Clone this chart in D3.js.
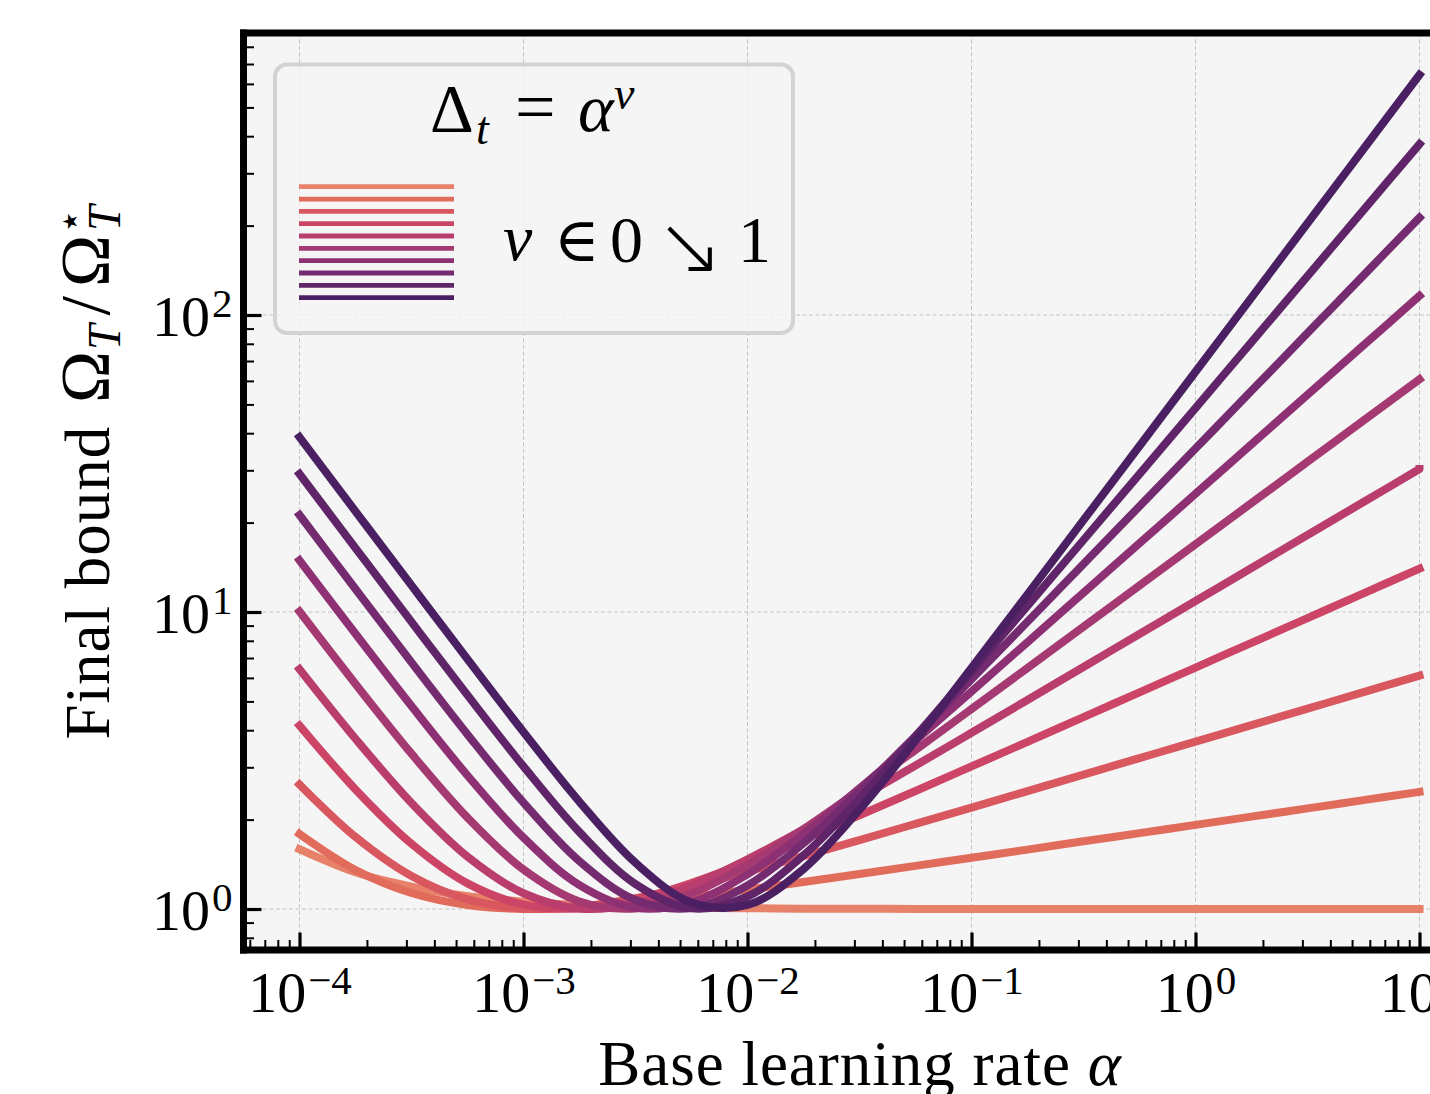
<!DOCTYPE html>
<html>
<head>
<meta charset="utf-8">
<script src="https://cdn.jsdelivr.net/npm/d3@7"></script>
<style>
body { margin: 0; background: #fff; }
svg { display: block; }
text { font-family: "Liberation Serif", "DejaVu Serif", serif; fill: #000; }
</style>
</head>
<body>
<svg id="chart"></svg>
<script>
const width = 1430;
const height = 1094;

// base learning rate samples (quarter decades)
const alpha = [1e-4, 1.778e-4, 3.162e-4, 5.623e-4, 1e-3, 1.778e-3, 3.162e-3, 5.623e-3,
  1e-2, 1.778e-2, 3.162e-2, 5.623e-2, 1e-1, 0.1778, 0.3162, 0.5623, 1, 1.778, 3.162, 5.623, 10];

// final bound ratio, one array per nu (0 -> 1)
const nu0 = [1.59, 1.33, 1.19, 1.105, 1.059, 1.033, 1.019, 1.010, 1.006, 1.003, 1.002, 1.001, 1.001, 1, 1, 1, 1, 1, 1, 1, 1];
const nu1 = [1.79, 1.354, 1.132, 1.032, 1.001, 1.012, 1.048, 1.099, 1.162, 1.233, 1.312, 1.397, 1.488, 1.585, 1.690, 1.801, 1.92, 2.047, 2.182, 2.326, 2.48];
const nu2 = [2.625, 1.748, 1.291, 1.077, 1.004, 1.017, 1.087, 1.196, 1.337, 1.507, 1.706, 1.935, 2.196, 2.495, 2.834, 3.221, 3.66, 4.16, 4.727, 5.372, 6.105];
const nu3 = [4.148, 2.528, 1.659, 1.220, 1.035, 1.004, 1.076, 1.224, 1.439, 1.718, 2.068, 2.497, 3.021, 3.655, 4.429, 5.365, 6.5, 7.875, 9.541, 11.56, 14.0];
const nu4 = [6.422, 3.744, 2.276, 1.501, 1.130, 1.004, 1.041, 1.200, 1.469, 1.852, 2.365, 3.042, 3.920, 5.055, 6.530, 8.432, 10.89, 14.06, 18.17, 23.46, 30.3];
const nu5 = [10.04, 5.727, 3.334, 2.031, 1.358, 1.060, 1.004, 1.127, 1.408, 1.858, 2.512, 3.433, 4.713, 6.480, 8.918, 12.28, 16.9, 23.27, 32.04, 44.11, 60.74];
const nu6 = [14.93, 8.447, 4.822, 2.816, 1.738, 1.204, 1.009, 1.055, 1.309, 1.787, 2.547, 3.696, 5.401, 7.914, 11.61, 17.04, 25.0, 36.70, 53.86, 79.06, 116.0];
const nu7 = [21.21, 11.95, 6.765, 3.872, 2.283, 1.449, 1.073, 1.008, 1.200, 1.665, 2.486, 3.822, 5.943, 9.278, 14.51, 22.69, 35.5, 55.55, 86.92, 136.0, 212.8];
const nu8 = [29.17, 16.42, 9.259, 5.248, 3.021, 1.815, 1.213, 1.005, 1.102, 1.516, 2.348, 3.815, 6.306, 10.49, 17.48, 29.14, 48.6, 81.07, 135.2, 225.6, 376.3];
const nu9 = [38.81, 21.83, 12.29, 6.936, 3.944, 2.296, 1.431, 1.052, 1.032, 1.363, 2.159, 3.691, 6.479, 11.47, 20.38, 36.22, 64.4, 114.5, 203.7, 362.2, 644.0];
const series = [nu0, nu1, nu2, nu3, nu4, nu5, nu6, nu7, nu8, nu9];

const palette = ["#e8816a", "#e26c5c", "#d9575f", "#cc4566", "#b93d6d",
  "#a53972", "#8d3174", "#752b70", "#5f2568", "#4b2062"];

const xTicks = [1e-4, 1e-3, 1e-2, 1e-1, 1, 10];
const xTickExp = ["\u22124", "\u22123", "\u22122", "\u22121", "0", "1"];
const yTicks = [1, 10, 100];
const yTickExp = ["0", "1", "2"];

const svg = d3.select("#chart").attr("width", width).attr("height", height);

const pLeft = 243.5, pRight = 1475.5, pTop = 33, pBottom = 950;
const x = d3.scaleLog().domain([Math.pow(10, -4.25), Math.pow(10, 1.25)]).range([pLeft, pRight]);
const y = d3.scaleLog().domain([Math.pow(10, -0.138), Math.pow(10, 2.9495)]).range([pBottom, pTop]);

svg.append("rect").attr("x", pLeft).attr("y", pTop)
  .attr("width", pRight - pLeft).attr("height", pBottom - pTop).attr("fill", "#f5f5f5");

svg.append("clipPath").attr("id", "plot")
  .append("rect").attr("x", pLeft).attr("y", pTop).attr("width", pRight - pLeft).attr("height", pBottom - pTop);

// grid
const grid = svg.append("g").attr("stroke", "#c4c4c4").attr("stroke-width", 1).attr("stroke-dasharray", "4,2.5");
grid.selectAll(".gx").data(xTicks).join("line")
  .attr("x1", d => x(d)).attr("x2", d => x(d)).attr("y1", pTop).attr("y2", pBottom);
grid.selectAll(".gy").data(yTicks).join("line")
  .attr("y1", d => y(d)).attr("y2", d => y(d)).attr("x1", pLeft).attr("x2", pRight);

// curves
const line = d3.line()
  .x((d, i) => x(alpha[i]))
  .y(d => y(d))
  .curve(d3.curveCatmullRom.alpha(0.5));

svg.append("g").attr("clip-path", "url(#plot)")
  .selectAll("path").data(series).join("path")
  .attr("d", line)
  .attr("fill", "none")
  .attr("stroke", (d, i) => palette[i])
  .attr("stroke-width", 8)
  .attr("stroke-linecap", "square")
  .attr("stroke-linejoin", "round");

// ticks
const minorX = x.ticks().filter(d => !xTicks.some(t => Math.abs(t - d) / t < 1e-6));
const minorY = y.ticks().filter(d => !yTicks.some(t => Math.abs(t - d) / t < 1e-6));

function styleAxis(g, w) {
  g.select(".domain").remove();
  g.selectAll(".tick line").attr("stroke", "#000").attr("stroke-width", w);
  g.selectAll(".tick text").remove();
}

svg.append("g").attr("transform", `translate(0,${pBottom})`)
  .call(d3.axisBottom(x).tickValues(minorX).tickSize(-10).tickFormat(""))
  .call(g => styleAxis(g, 2));
const xMajor = svg.append("g").attr("transform", `translate(0,${pBottom})`)
  .call(d3.axisBottom(x).tickValues(xTicks).tickSize(-17.5).tickFormat(""))
  .call(g => styleAxis(g, 3.2));

svg.append("g").attr("transform", `translate(${pLeft},0)`)
  .call(d3.axisLeft(y).tickValues(minorY).tickSize(-10.5).tickFormat(""))
  .call(g => styleAxis(g, 2));
const yMajor = svg.append("g").attr("transform", `translate(${pLeft},0)`)
  .call(d3.axisLeft(y).tickValues(yTicks).tickSize(-18).tickFormat(""))
  .call(g => styleAxis(g, 3.2));

xMajor.selectAll(".tick").each(function (d) {
  const t = d3.select(this).append("text")
    .attr("y", 62).attr("text-anchor", "middle").attr("font-size", 58);
  t.append("tspan").text("10");
  t.append("tspan").attr("dx", 2).attr("dy", -18).attr("font-size", 41).text(xTickExp[xTicks.indexOf(d)]);
});

yMajor.selectAll(".tick").each(function (d) {
  const t = d3.select(this).append("text")
    .attr("x", -11).attr("y", 20).attr("text-anchor", "end").attr("font-size", 58);
  t.append("tspan").text("10");
  t.append("tspan").attr("dx", 2).attr("dy", -19).attr("font-size", 41).text(yTickExp[yTicks.indexOf(d)]);
});

// spines
const spines = svg.append("g").attr("stroke", "#000").attr("stroke-width", 7);
spines.append("line").attr("x1", pLeft).attr("x2", pLeft).attr("y1", pTop - 3.5).attr("y2", pBottom + 3.5);
spines.append("line").attr("x1", pLeft - 3.5).attr("x2", pRight).attr("y1", pTop).attr("y2", pTop);
spines.append("line").attr("x1", pLeft - 3.5).attr("x2", pRight).attr("y1", pBottom).attr("y2", pBottom);

// legend
const lg = svg.append("g");
lg.append("rect").attr("x", 275).attr("y", 64.5).attr("width", 518).attr("height", 268.5)
  .attr("rx", 12).attr("fill", "#f5f5f5").attr("fill-opacity", 0.8)
  .attr("stroke", "#d3d3d3").attr("stroke-width", 4);

lg.selectAll(".handle").data(palette).join("line")
  .attr("x1", 299).attr("x2", 454)
  .attr("y1", (d, i) => 186.7 + i * 12.33).attr("y2", (d, i) => 186.7 + i * 12.33)
  .attr("stroke", d => d).attr("stroke-width", 4.8);

lg.append("text").attr("x", 430).attr("y", 131).attr("font-size", 68).text("\u0394");
lg.append("text").attr("x", 476).attr("y", 144).attr("font-size", 46).attr("font-style", "italic").text("t");
lg.append("text").attr("x", 515).attr("y", 131).attr("font-size", 72).text("=");
lg.append("text").attr("x", 578).attr("y", 131).attr("font-size", 68).attr("font-style", "italic").text("\u03b1");
lg.append("text").attr("x", 614).attr("y", 109).attr("font-size", 46).attr("font-style", "italic").text("\u03bd");

lg.append("text").attr("x", 503).attr("y", 260).attr("font-size", 66).attr("font-style", "italic").text("\u03bd");
lg.append("text").attr("x", 554).attr("y", 261).attr("font-size", 62).text("\u2208");
lg.append("text").attr("x", 610).attr("y", 262).attr("font-size", 66).text("0");
lg.append("text").attr("x", 655).attr("y", 274).attr("font-size", 82)
  .style("font-family", "'DejaVu Sans', sans-serif").attr("font-weight", 300).text("\u2198");
lg.append("text").attr("x", 738).attr("y", 262).attr("font-size", 66).text("1");

// axis labels
const xl = svg.append("text").attr("x", 860).attr("y", 1085).attr("text-anchor", "middle")
  .attr("font-size", 63).attr("letter-spacing", 1);
xl.append("tspan").text("Base learning rate ");
xl.append("tspan").attr("font-style", "italic").text("\u03b1");

const yl = svg.append("text").attr("transform", "translate(109,472) rotate(-90)")
  .attr("text-anchor", "middle").attr("font-size", 63).attr("letter-spacing", 1);
yl.append("tspan").text("Final bound ");
yl.append("tspan").attr("dx", 6).attr("font-size", 70).text("\u03a9");
yl.append("tspan").attr("font-style", "italic").attr("font-size", 46).attr("dy", 11).text("T");
yl.append("tspan").attr("dx", 8).attr("dy", -11).attr("font-size", 70).text("/");
yl.append("tspan").attr("dx", 8).attr("font-size", 70).text("\u03a9");
yl.append("tspan").attr("font-size", 40).attr("dy", -26).text("\u22c6");
yl.append("tspan").attr("font-style", "italic").attr("font-size", 46).attr("dx", -23).attr("dy", 37).text("T");
</script>
</body>
</html>
